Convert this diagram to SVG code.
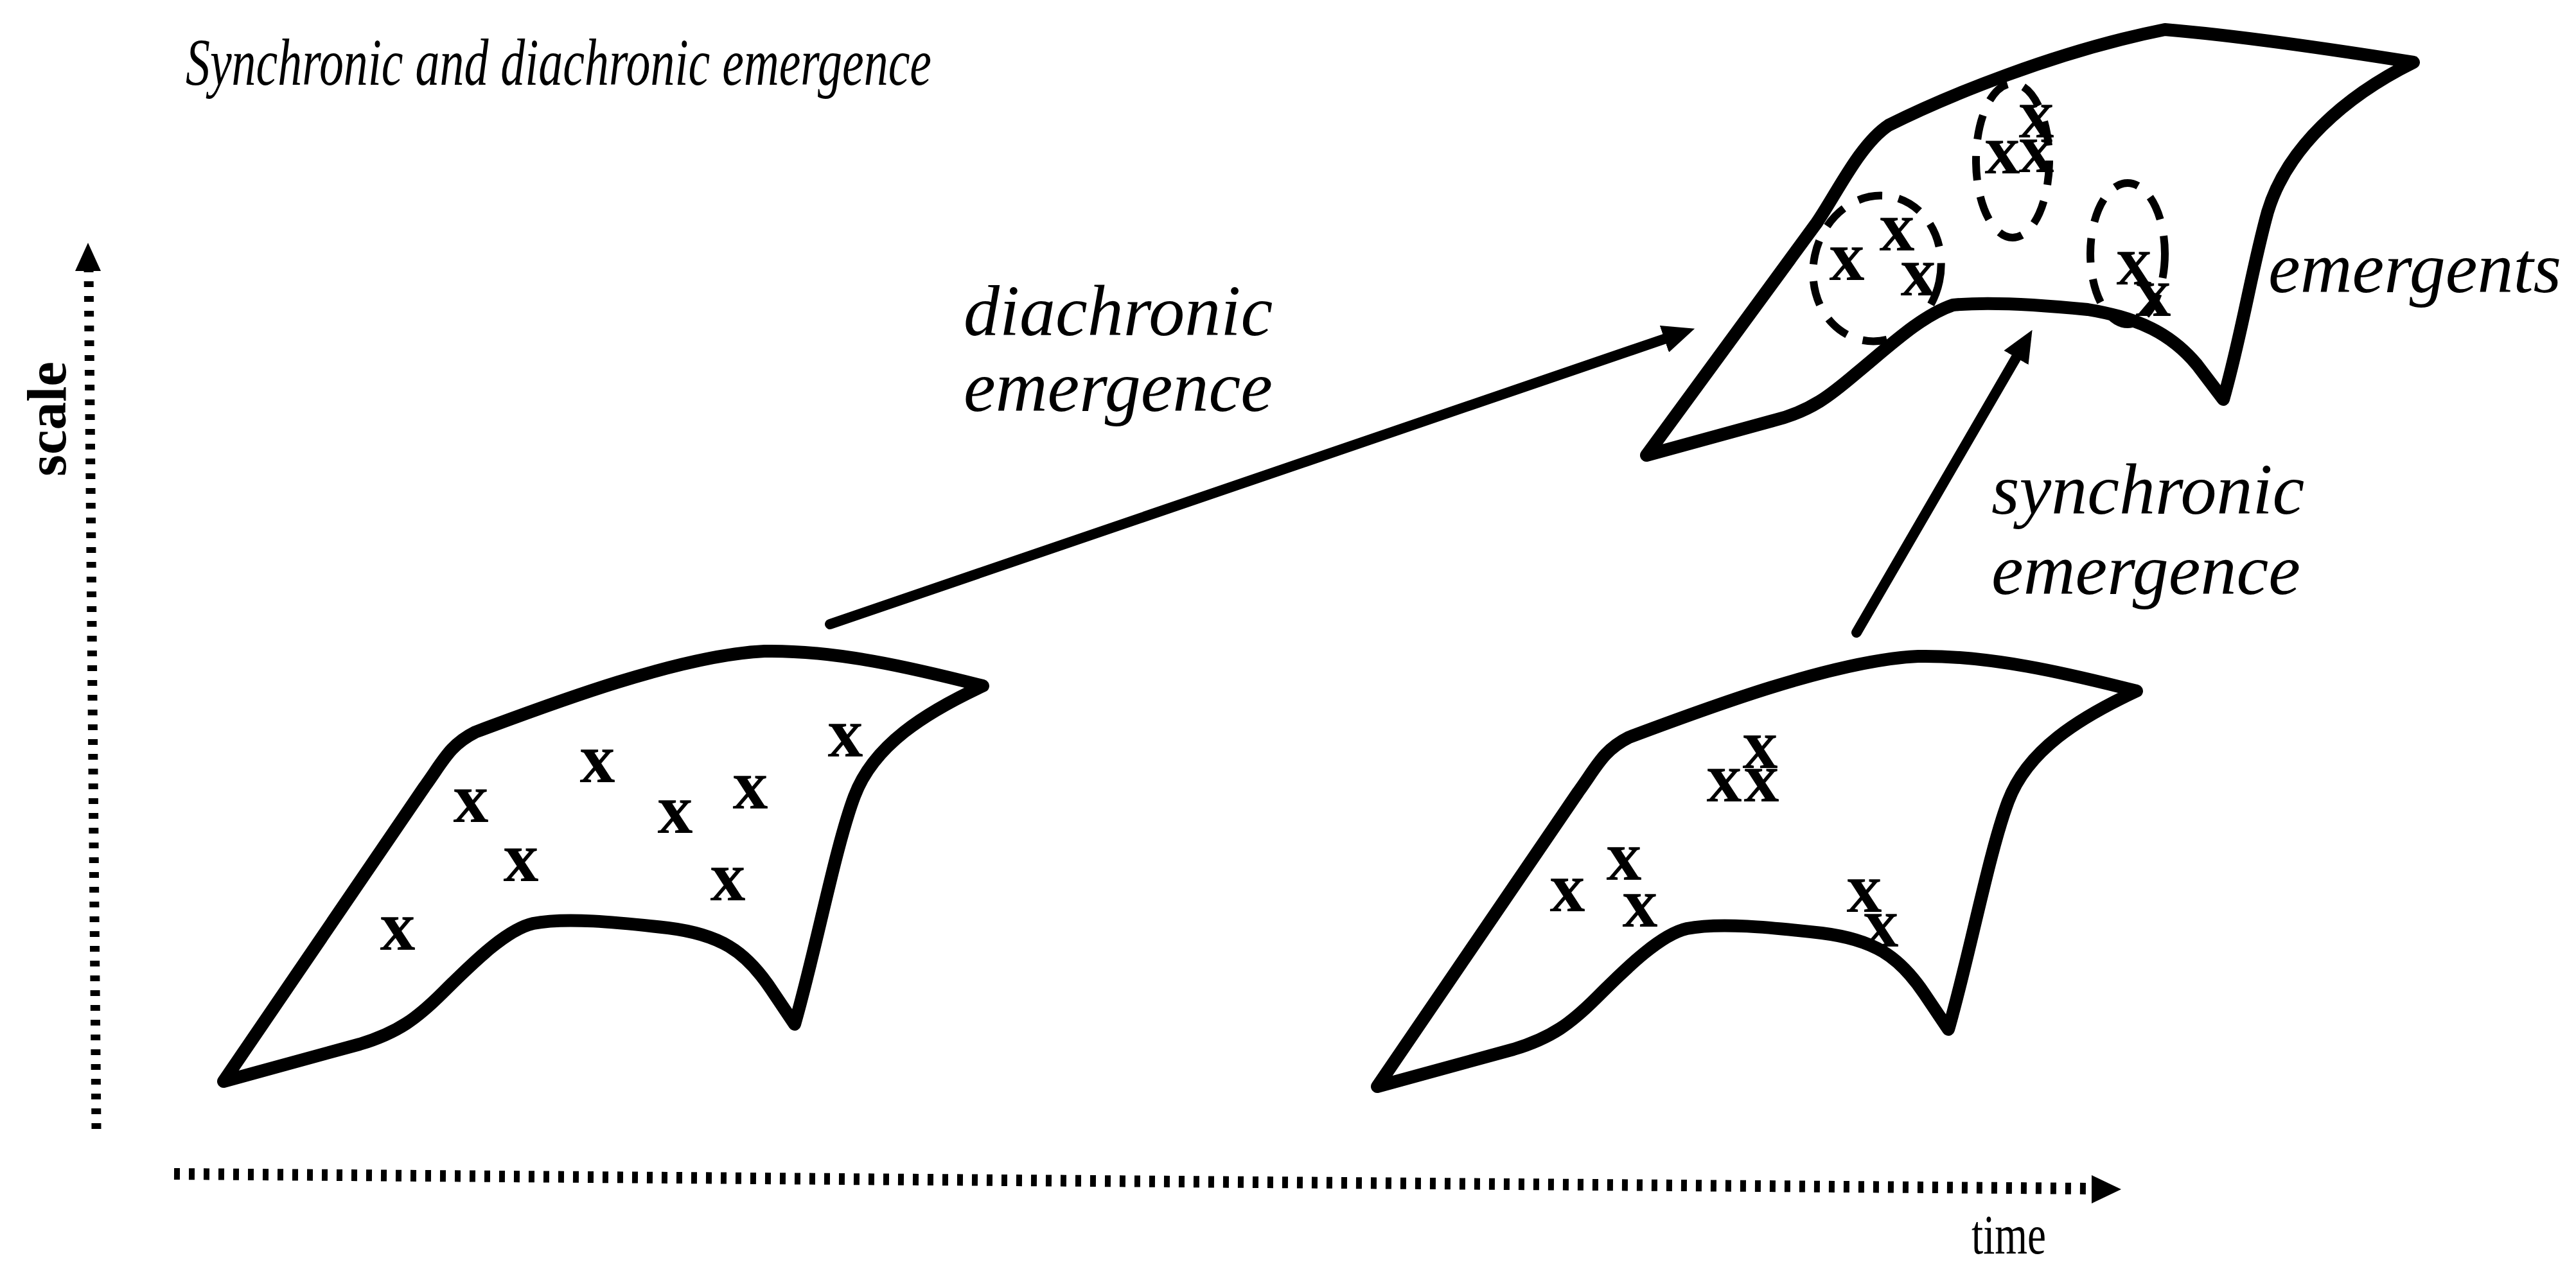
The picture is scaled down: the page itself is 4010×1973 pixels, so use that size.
<svg xmlns="http://www.w3.org/2000/svg" xmlns:xlink="http://www.w3.org/1999/xlink" width="4010" height="1973" viewBox="0 0 4010 1973">
<style>
.surf{fill:none;stroke:#000;stroke-width:20;stroke-linejoin:round;stroke-linecap:round}
.mark{font-family:"Liberation Serif","Times New Roman",serif;font-weight:bold;font-size:110px;text-anchor:middle;fill:#000}
.lbl{font-family:"Liberation Serif","Times New Roman",serif;font-style:italic;font-size:112px;fill:#000}
.title{font-family:"Liberation Serif","Times New Roman",serif;font-style:italic;font-size:104px;fill:#000}
.axlbl{font-family:"Liberation Serif","Times New Roman",serif;font-size:86px;fill:#000}
.grp{fill:none;stroke:#000;stroke-width:12;stroke-dasharray:38 26}
.axis{fill:none;stroke:#000;stroke-dasharray:9 14}
.conn{fill:none;stroke:#000;stroke-width:16;stroke-linecap:round}
</style>
<defs>
<marker id="ah" markerUnits="userSpaceOnUse" markerWidth="50" markerHeight="44" viewBox="0 0 50 44" refX="15" refY="22" orient="auto">
<path d="M0,0 L50,22 L0,44 z" fill="#000"/>
</marker>
<path id="surfLow" d="M348,1684 L661,1225 C690,1185 700,1160 740,1140 C860,1095 1060,1020 1190,1014 C1300,1012 1420,1040 1530,1068 C1440,1110 1360,1160 1330,1240 C1300,1320 1270,1480 1237,1595 L1200,1540 C1160,1480 1120,1455 1040,1445 C960,1436 880,1428 830,1438 C790,1447 740,1495 690,1545 C650,1585 620,1608 560,1626 Z"/>
</defs>
<rect width="4010" height="1973" fill="#fff"/>

<g id="title">
<text class="title" x="289" y="132" textLength="1161" lengthAdjust="spacingAndGlyphs">Synchronic and diachronic emergence</text>
</g>

<g id="scale-axis">
<line class="axis" x1="150" y1="1758" x2="138" y2="418" stroke-width="15"/>
<polygon points="137,378 117,422 157,422" fill="#000"/>
<text class="axlbl" font-weight="bold" transform="translate(102,742) rotate(-90)" textLength="179" lengthAdjust="spacingAndGlyphs">scale</text>
</g>

<g id="time-axis">
<line class="axis" x1="271" y1="1828" x2="3262" y2="1851" stroke-width="18"/>
<polygon points="3302,1852 3256,1830 3256,1874" fill="#000"/>
<text class="axlbl" x="3069" y="1952" textLength="116" lengthAdjust="spacingAndGlyphs">time</text>
</g>

<g id="surface-early">
<use xlink:href="#surfLow" class="surf"/>
<text class="mark" x="733" y="1280">x</text>
<text class="mark" x="930" y="1218">x</text>
<text class="mark" x="811" y="1372">x</text>
<text class="mark" x="1051" y="1297">x</text>
<text class="mark" x="1168" y="1259">x</text>
<text class="mark" x="1316" y="1178">x</text>
<text class="mark" x="1133" y="1402">x</text>
<text class="mark" x="619" y="1479">x</text>
</g>

<g id="surface-late-low">
<use xlink:href="#surfLow" class="surf" transform="translate(1796,8)"/>
<text class="mark" x="2440" y="1419">x</text>
<text class="mark" x="2528" y="1370">x</text>
<text class="mark" x="2553" y="1443">x</text>
<text class="mark" x="2684" y="1248">x</text>
<text class="mark" x="2740" y="1196">x</text>
<text class="mark" x="2742" y="1248">x</text>
<text class="mark" x="2902" y="1420">x</text>
<text class="mark" x="2928" y="1474">x</text>
</g>

<g id="surface-emergent">
<path class="surf" d="M2563,709 L2828,347 C2860,300 2895,225 2940,195 C3030,150 3200,80 3370,46 C3480,55 3650,80 3757,97 C3650,150 3560,230 3530,330 C3505,420 3490,520 3461,622 L3420,568 C3380,520 3330,495 3250,482 C3170,474 3090,470 3040,475 C2990,492 2940,540 2890,581 C2850,615 2820,640 2760,655 Z"/>
<ellipse class="grp" cx="2922" cy="418" rx="99" ry="114" transform="rotate(12 2922 418)"/>
<ellipse class="grp" cx="3133" cy="250" rx="57" ry="120"/>
<ellipse class="grp" cx="3312" cy="395" rx="58" ry="110"/>
<text class="mark" x="2875" y="436">x</text>
<text class="mark" x="2953" y="390">x</text>
<text class="mark" x="2986" y="460" font-size="90">x</text>
<text class="mark" x="3117" y="270">x</text>
<text class="mark" x="3170" y="214">x</text>
<text class="mark" x="3170" y="268">x</text>
<text class="mark" x="3322" y="443">x</text>
<text class="mark" x="3352" y="492">x</text>
</g>

<g id="connectors">
<line class="conn" x1="1292" y1="972" x2="2605" y2="523" marker-end="url(#ah)"/>
<line class="conn" x1="2890" y1="985" x2="3146" y2="544" marker-end="url(#ah)"/>
</g>

<g id="labels">
<text class="lbl" x="1500" y="522">diachronic</text>
<text class="lbl" x="1500" y="640">emergence</text>
<text class="lbl" x="3100" y="800">synchronic</text>
<text class="lbl" x="3100" y="925">emergence</text>
<text class="lbl" x="3531" y="455" font-size="102">emergents</text>
</g>
</svg>
